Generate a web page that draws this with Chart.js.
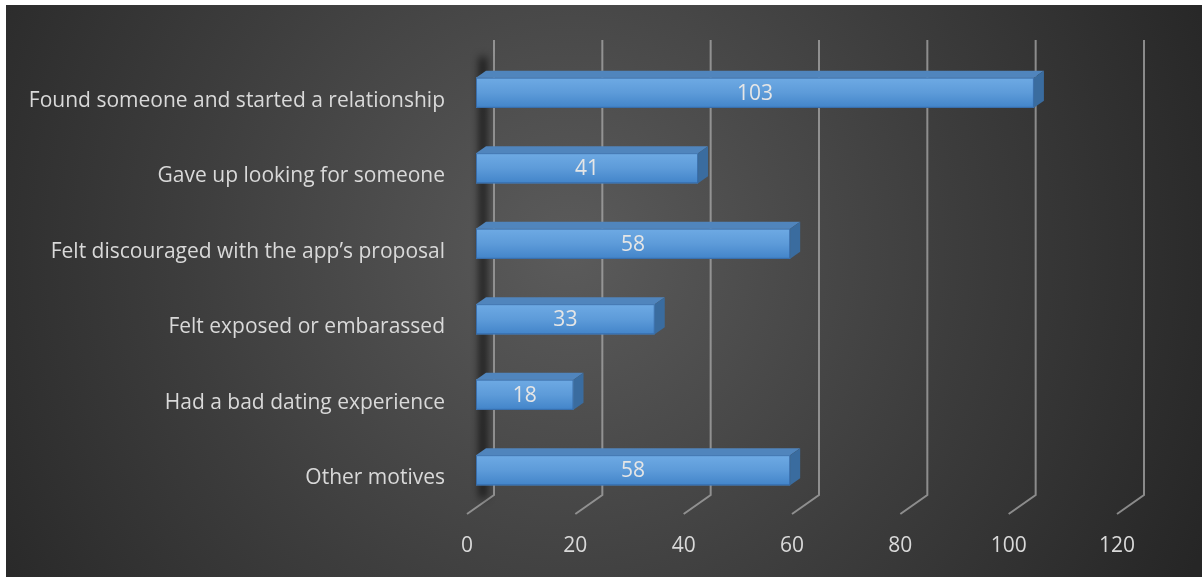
<!DOCTYPE html>
<html>
<head>
<meta charset="utf-8">
<script src="https://cdn.jsdelivr.net/npm/chart.js@4.4.0/dist/chart.umd.min.js"></script>
<style>
  html, body { margin: 0; padding: 0; background: #fff; }
  #wrap { width: 1202px; height: 577px; position: relative; }
</style>
</head>
<body>
<div id="wrap"><canvas id="chart"></canvas></div>
<script>
// data
const categories = [
    'Found someone and started a relationship',
    'Gave up looking for someone',
    'Felt discouraged with the app\u2019s proposal',
    'Felt exposed or embarassed',
    'Had a bad dating experience',
    'Other motives'
];
const counts = [103, 41, 58, 33, 18, 58];
const xTicks = [0, 20, 40, 60, 80, 100, 120];

const FONT = '"Open Sans", sans-serif';
const TEXT = '#d9d9d9';

// background: white frame + dark radial gradient
const bgPlugin = {
    id: 'bg',
    beforeDraw(chart) {
        const ctx = chart.ctx;
        ctx.save();
        ctx.fillStyle = '#ffffff';
        ctx.fillRect(0, 0, chart.width, chart.height);
        const g = ctx.createRadialGradient(570, 250, 0, 570, 250, 700);
        g.addColorStop(0, '#5b5b5b');
        g.addColorStop(0.55, '#3d3d3d');
        g.addColorStop(1, '#262626');
        ctx.fillStyle = g;
        ctx.fillRect(6, 5, chart.width - 6, chart.height - 5);
        ctx.restore();
    }
};

// 3D-looking gridlines (back wall + floor) and left wall shadow
const gridPlugin = {
    id: 'grid3d',
    beforeDatasetsDraw(chart) {
        const ctx = chart.ctx;
        const xs = chart.scales.x;
        const area = chart.chartArea;
        ctx.save();
        ctx.strokeStyle = 'rgba(170,170,170,0.75)';
        ctx.lineWidth = 2;
        xTicks.forEach(v => {
            const px = xs.getPixelForValue(v);
            ctx.beginPath();
            ctx.moveTo(px + 18, area.top - 15);
            ctx.lineTo(px + 18, area.bottom - 13);
            ctx.lineTo(px - 9, area.bottom + 6);
            ctx.stroke();
        });
        // soft shadow on the left wall
        ctx.filter = 'blur(4px)';
        ctx.strokeStyle = 'rgba(0,0,0,0.85)';
        ctx.lineWidth = 6;
        ctx.beginPath();
        ctx.moveTo(xs.getPixelForValue(0) + 7, area.top + 2);
        ctx.lineTo(xs.getPixelForValue(0) + 7, area.bottom - 10);
        ctx.stroke();
        ctx.restore();
    }
};

// shaded front face, top and side faces of the bars, plus value labels
const barPlugin = {
    id: 'bar3d',
    afterDatasetsDraw(chart) {
        const ctx = chart.ctx;
        const meta = chart.getDatasetMeta(0);
        const dx = 10, dy = 7;
        ctx.save();
        meta.data.forEach((bar, i) => {
            const x0 = bar.base, x1 = bar.x;
            const top = bar.y - bar.height / 2;
            const bottom = bar.y + bar.height / 2;
            // front face gradient
            const g = ctx.createLinearGradient(0, top, 0, bottom);
            g.addColorStop(0, '#6eaae4');
            g.addColorStop(0.5, '#5d9bd9');
            g.addColorStop(1, '#4284c9');
            ctx.fillStyle = g;
            ctx.fillRect(x0, top, x1 - x0, bottom - top);
            ctx.strokeStyle = 'rgba(50,100,160,0.8)';
            ctx.lineWidth = 1;
            ctx.strokeRect(x0 + 0.5, top + 0.5, x1 - x0 - 1, bottom - top - 1);
            // top face
            ctx.fillStyle = '#5085bd';
            ctx.beginPath();
            ctx.moveTo(x0, top);
            ctx.lineTo(x1, top);
            ctx.lineTo(x1 + dx, top - dy);
            ctx.lineTo(x0 + dx, top - dy);
            ctx.closePath();
            ctx.fill();
            // right face
            ctx.fillStyle = '#3a6c9f';
            ctx.beginPath();
            ctx.moveTo(x1, top);
            ctx.lineTo(x1 + dx, top - dy);
            ctx.lineTo(x1 + dx, bottom - dy);
            ctx.lineTo(x1, bottom);
            ctx.closePath();
            ctx.fill();
            // value label
            ctx.fillStyle = '#e6e6e6';
            ctx.font = '21px ' + FONT;
            ctx.textAlign = 'center';
            ctx.textBaseline = 'middle';
            ctx.fillText(String(counts[i]), (x0 + x1) / 2, bar.y + 1);
        });
        ctx.restore();
    }
};

new Chart(document.getElementById('chart'), {
    type: 'bar',
    data: {
        labels: categories,
        datasets: [{
            data: counts,
            backgroundColor: '#5b9bd5',
            borderWidth: 0,
            categoryPercentage: 1,
            barPercentage: 0.4
        }]
    },
    options: {
        indexAxis: 'y',
        responsive: true,
        maintainAspectRatio: false,
        animation: false,
        layout: { padding: { top: 55, right: 76, left: 0, bottom: 0 } },
        plugins: {
            legend: { display: false },
            tooltip: { enabled: false }
        },
        scales: {
            x: {
                min: 0,
                max: 120,
                afterBuildTicks: (s) => { s.ticks = xTicks.map(v => ({ value: v })); },
                afterFit: (s) => { s.height = 69; },
                grid: { display: false, drawTicks: false },
                border: { display: false },
                ticks: {
                    color: TEXT,
                    font: { family: FONT, size: 21 },
                    padding: 25,
                    labelOffset: -9
                }
            },
            y: {
                afterFit: (s) => { s.width = 476; },
                grid: { display: false, drawTicks: false },
                border: { display: false },
                ticks: {
                    color: TEXT,
                    font: { family: FONT, size: 21 },
                    padding: 31,
                    labelOffset: 8
                }
            }
        }
    },
    plugins: [bgPlugin, gridPlugin, barPlugin]
});
</script>
</body>
</html>
